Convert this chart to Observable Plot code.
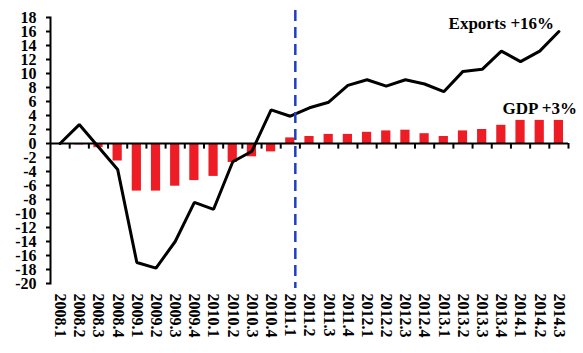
<!DOCTYPE html>
<html>
<head>
<meta charset="utf-8">
<script src="https://cdn.jsdelivr.net/npm/d3@7"></script>
<script src="https://cdn.jsdelivr.net/npm/@observablehq/plot@0.6"></script>
<style>
  html, body { margin: 0; padding: 0; background: #fff; }
  #chart svg { display: block; }
</style>
</head>
<body>
<div id="chart"></div>
<script>
const quarters = [
  "2008.1","2008.2","2008.3","2008.4",
  "2009.1","2009.2","2009.3","2009.4",
  "2010.1","2010.2","2010.3","2010.4",
  "2011.1","2011.2","2011.3","2011.4",
  "2012.1","2012.2","2012.3","2012.4",
  "2013.1","2013.2","2013.3","2013.4",
  "2014.1","2014.2","2014.3"
];
const exportsGrowth = [
  0, 2.7, -0.5, -3.7,
  -17.0, -17.8, -14.0, -8.4,
  -9.4, -2.6, -1.1, 4.8,
  3.9, 5.1, 5.9, 8.3,
  9.1, 8.2, 9.1, 8.5,
  7.4, 10.3, 10.6, 13.2,
  11.7, 13.2, 16.0
];
const gdpGrowth = [
  0, -0.2, -0.6, -2.5,
  -6.8, -6.8, -6.1, -5.3,
  -4.7, -2.7, -1.9, -1.2,
  0.8, 1.0, 1.3, 1.3,
  1.6, 1.8, 1.9, 1.4,
  1.0, 1.8, 2.0, 2.6,
  3.3, 3.3, 3.3
];
const yTicks = d3.range(-20, 19, 2);
const markerQuarter = ["2011.1"];
const annoLabels = ["Exports +16%", "GDP +3%"];
const annoX = ["2013.4", "2014.2"];
const annoY = [17.1, 5.0];

const W = 583, H = 353;
const mL = 50, mR = 15, mT = 17, mB = 70;
const bw = (W - mL - mR) / quarters.length;
const font = "'Liberation Serif', 'Times New Roman', serif";

const rows = quarters.map((q, i) => ({q, exp: exportsGrowth[i], gdp: gdpGrowth[i]}));
const annos = annoLabels.map((t, i) => ({t, x: annoX[i], y: annoY[i]}));

const chart = Plot.plot({
  width: W,
  height: H,
  marginLeft: mL,
  marginRight: mR,
  marginTop: mT,
  marginBottom: mB,
  style: {fontFamily: font, fontSize: "16px", fontWeight: "bold", color: "#000", background: "#fff"},
  x: {type: "band", domain: quarters, paddingInner: 0, paddingOuter: 0, round: false},
  y: {domain: [-20, 18]},
  marks: [
    Plot.barY(rows, {x: "q", y: "gdp", fill: "#ee1c25", insetLeft: bw * 0.26, insetRight: bw * 0.26}),
    Plot.ruleY([0], {stroke: "#000", strokeWidth: 2}),
    Plot.ruleX(quarters, {x: d => d, y1: () => 0, y2: () => -0.8, dx: bw / 2, stroke: "#000", strokeWidth: 2, strokeLinecap: "butt"}),
    Plot.lineY(rows, {x: "q", y: "exp", stroke: "#000", strokeWidth: 3, strokeLinejoin: "miter"}),
    Plot.ruleX(markerQuarter, {x: d => d, y1: () => 19, y2: () => -20.7, dx: 5, stroke: "#1f3fbf", strokeWidth: 2.5, strokeDasharray: "11,6", clip: false}),
    Plot.text(annos, {x: "x", y: "y", text: "t", fill: "#000", fontSize: 17, fontWeight: "bold", textAnchor: "middle"}),
    Plot.axisY({ticks: yTicks, tickSize: 4, tickPadding: 10, strokeWidth: 2, tickFormat: d => String(d), fontSize: 16}),
    Plot.frame({anchor: "left", stroke: "#000", strokeWidth: 2}),
    Plot.axisX({tickSize: 0, tickPadding: 10, tickRotate: 90, fontSize: 16})
  ]
});
document.getElementById("chart").appendChild(chart);
</script>
</body>
</html>
